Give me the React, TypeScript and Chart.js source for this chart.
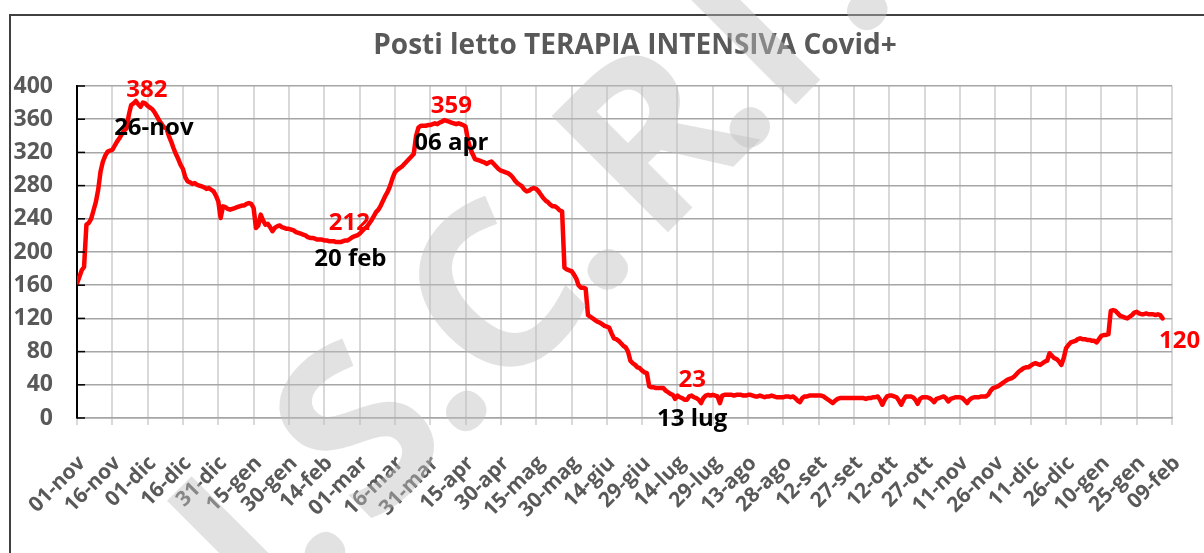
import React, { useEffect, useRef } from "react";
import { Chart, registerables } from "chart.js";

Chart.register(...registerables);

const titleText = "Posti letto TERAPIA INTENSIVA Covid+";

const tickLabels = [
  "01-nov", "16-nov", "01-dic", "16-dic", "31-dic", "15-gen", "30-gen", "14-feb",
  "01-mar", "16-mar", "31-mar", "15-apr", "30-apr", "15-mag", "30-mag", "14-giu",
  "29-giu", "14-lug", "29-lug", "13-ago", "28-ago", "12-set", "27-set", "12-ott",
  "27-ott", "11-nov", "26-nov", "11-dic", "26-dic", "10-gen", "25-gen", "09-feb",
];

// daily values, 01-nov-2020 .. 05-feb-2022
const nov2020 = [162, 170, 178, 182, 233, 235, 240, 250, 260, 275, 297, 309, 316, 321, 322, 323, 328, 333, 337, 342, 346, 349, 365, 377, 379, 382, 378, 375, 380, 379];
const dic2020 = [376, 374, 372, 368, 363, 358, 354, 350, 349, 340, 333, 325, 318, 312, 305, 300, 290, 285, 284, 282, 283, 281, 280, 279, 278, 276, 277, 275, 273, 268, 261];
const gen2021 = [241, 255, 254, 252, 251, 252, 253, 254, 255, 256, 256, 258, 259, 258, 253, 229, 232, 245, 238, 233, 234, 230, 225, 229, 231, 232, 230, 229, 228, 228, 227];
const feb2021 = [226, 224, 223, 222, 221, 220, 218, 217, 217, 216, 215, 215, 215, 214, 214, 213, 213, 213, 212, 212, 212, 213, 214, 214, 216, 218, 219, 220];
const mar2021 = [222, 225, 228, 230, 234, 238, 243, 248, 251, 256, 262, 268, 273, 280, 289, 296, 299, 301, 303, 306, 309, 312, 315, 318, 340, 350, 352, 352, 352, 353, 353];
const apr2021 = [354, 355, 354, 356, 357, 359, 358, 357, 356, 355, 354, 355, 354, 353, 351, 335, 325, 318, 312, 311, 310, 309, 308, 306, 308, 309, 306, 303, 300, 298];
const mag2021 = [297, 296, 295, 293, 290, 286, 283, 281, 279, 275, 273, 274, 276, 277, 276, 273, 269, 265, 262, 260, 257, 255, 255, 253, 250, 249, 181, 179, 178, 177, 173];
const giu2021 = [168, 160, 157, 157, 156, 124, 122, 120, 118, 116, 115, 113, 111, 110, 109, 102, 96, 95, 93, 90, 87, 85, 80, 69, 66, 64, 61, 60, 57, 55];
const lug2021 = [54, 38, 37, 37, 36, 36, 36, 36, 33, 31, 29, 28, 23, 27, 25, 24, 22, 22, 26, 27, 25, 24, 22, 18, 24, 27, 28, 27, 28, 27, 26];
const ago2021 = [18, 27, 28, 28, 28, 28, 27, 28, 28, 28, 27, 27, 28, 28, 27, 26, 26, 27, 26, 25, 26, 26, 27, 26, 25, 25, 25, 25, 26, 26, 25];
const set2021 = [26, 24, 21, 19, 24, 26, 26, 27, 27, 27, 27, 27, 27, 26, 24, 22, 20, 18, 21, 23, 24, 24, 24, 24, 24, 24, 24, 24, 24, 24];
const ott2021 = [24, 23, 24, 24, 25, 25, 26, 22, 16, 22, 26, 27, 27, 26, 25, 21, 16, 22, 26, 26, 26, 25, 22, 17, 23, 25, 25, 25, 24, 22, 19];
const nov2021 = [23, 24, 25, 26, 24, 20, 23, 24, 25, 25, 25, 24, 21, 18, 22, 24, 25, 25, 25, 26, 26, 26, 28, 33, 36, 37, 38, 40, 42, 44];
const dic2021 = [46, 47, 48, 50, 53, 56, 58, 60, 61, 61, 63, 65, 66, 65, 64, 66, 68, 69, 78, 75, 72, 71, 68, 64, 72, 84, 88, 91, 92, 93, 95];
const gen2022 = [96, 95, 95, 94, 94, 93, 93, 91, 95, 99, 100, 100, 101, 129, 130, 129, 126, 123, 122, 121, 120, 122, 124, 127, 128, 126, 125, 125, 126, 125, 125];
const feb2022 = [125, 124, 125, 124, 120];

const values = [
  ...nov2020, ...dic2020, ...gen2021, ...feb2021, ...mar2021, ...apr2021,
  ...mag2021, ...giu2021, ...lug2021, ...ago2021, ...set2021, ...ott2021,
  ...nov2021, ...dic2021, ...gen2022, ...feb2022,
];

// callouts: day index in the series, value text, date text
const calloutDays = [25, 111, 156, 254, 461];
const calloutValues = ["382", "212", "359", "23", "120"];
const calloutDates = ["26-nov", "20 feb", "06 apr", "13 lug", ""];

// watermark characters
const watermarkChars = ["I", ".", "S", ".", "C", ".", "R", ".", "I", "."];

const FONT = "'Open Sans', 'Noto Sans', sans-serif";

// offsets (px) of the callout texts from their point: [valueDx, valueDy, dateDx, dateDy]
const calloutOffsets = [
  [11, -11, 18, 27],
  [11, -19, 12, 17],
  [7, -14, 7, 23],
  [17, -19, 17, 20],
  [17, 23, 0, 0],
];
// positions of the watermark glyphs along its rotated baseline
const watermarkAlong = [-520, -462, -352, -262, -162, -62, 62, 139, 205, 305];

const overlayPlugin = {
  id: "overlay",
  afterDatasetsDraw(chart: any) {
    const { ctx, chartArea, scales } = chart;
    const xs = scales.x;
    const ys = scales.y;
    ctx.save();
    // inner black tick marks on the value axis
    ctx.strokeStyle = "#000000";
    ctx.lineWidth = 1.5;
    ys.ticks.forEach((t: any) => {
      const py = ys.getPixelForValue(t.value);
      ctx.beginPath();
      ctx.moveTo(chartArea.left, py);
      ctx.lineTo(chartArea.left + 8, py);
      ctx.stroke();
    });
    // title
    ctx.font = `bold 28px ${FONT}`;
    ctx.fillStyle = "#595959";
    ctx.textAlign = "center";
    ctx.textBaseline = "middle";
    ctx.fillText(titleText, 635, 46);
    // callouts
    ctx.font = `bold 24px ${FONT}`;
    calloutDays.forEach((d, i) => {
      const px = xs.getPixelForValue(d);
      const py = ys.getPixelForValue(values[d]);
      const o = calloutOffsets[i];
      ctx.fillStyle = "#ff0000";
      ctx.fillText(calloutValues[i], px + o[0], py + o[1]);
      if (calloutDates[i]) {
        ctx.fillStyle = "#000000";
        ctx.fillText(calloutDates[i], px + o[2], py + o[3]);
      }
    });
    ctx.restore();
  },
  afterDraw(chart: any) {
    const { ctx } = chart;
    ctx.save();
    ctx.translate(663, 237);
    ctx.rotate(-Math.PI / 4);
    ctx.font = `bold 230px ${FONT}`;
    ctx.fillStyle = "rgba(190, 190, 190, 0.45)";
    ctx.textAlign = "center";
    ctx.textBaseline = "alphabetic";
    watermarkChars.forEach((ch, i) => {
      ctx.fillText(ch, watermarkAlong[i], 0);
    });
    ctx.restore();
  },
};

export default function App() {
  const canvasRef = useRef<HTMLCanvasElement | null>(null);

  useEffect(() => {
    if (!canvasRef.current) return;
    const chart = new Chart(canvasRef.current, {
      type: "line",
      data: {
        datasets: [
          {
            data: values.map((v, i) => ({ x: i, y: v })),
            borderColor: "#ff0000",
            borderWidth: 4.5,
            pointRadius: 0,
            tension: 0,
            borderJoinStyle: "round",
            borderCapStyle: "round",
          },
        ],
      },
      options: {
        animation: false,
        responsive: false,
        layout: { padding: { left: 0, right: 32, top: 86, bottom: 0 } },
        plugins: {
          legend: { display: false },
          tooltip: { enabled: false },
          title: { display: false },
        },
        scales: {
          x: {
            type: "linear",
            min: 0,
            max: 465,
            afterFit: (s: any) => {
              s.height = 135;
              s.paddingLeft = 0;
              s.paddingRight = 0;
            },
            ticks: {
              stepSize: 15,
              autoSkip: false,
              maxRotation: 45,
              minRotation: 45,
              padding: 26,
              labelOffset: 5,
              color: "#595959",
              font: { family: FONT, weight: "bold", size: 21 },
              callback: (v: any) => tickLabels[Math.round(Number(v) / 15)] ?? "",
            },
            grid: { color: "#d9d9d9", lineWidth: 2, tickLength: 7 },
            border: { color: "#a6a6a6", width: 1.5 },
          },
          y: {
            min: 0,
            max: 400,
            afterFit: (s: any) => {
              s.width = 77;
            },
            ticks: {
              stepSize: 40,
              padding: 24,
              color: "#595959",
              font: { family: FONT, weight: "bold", size: 23 },
            },
            grid: { color: "#a6a6a6", lineWidth: 1.5, drawTicks: false },
            border: { color: "#000000", width: 2 },
          },
        },
      },
      plugins: [overlayPlugin],
    } as any);
    if ((document as any).fonts && (document as any).fonts.ready) {
      (document as any).fonts.ready.then(() => chart.update());
    }
    return () => chart.destroy();
  }, []);

  return (
    <div style={{ position: "absolute", left: 0, top: 0, width: 1204, height: 553, background: "#ffffff", overflow: "hidden" }}>
      <div
        style={{
          position: "absolute",
          left: 9,
          top: 14,
          right: -4,
          bottom: -4,
          borderLeft: "2px solid #404040",
          borderTop: "2px solid #404040",
        }}
      />
      <canvas ref={canvasRef} width={1204} height={553} style={{ position: "absolute", left: 0, top: 0, width: 1204, height: 553 }} />
    </div>
  );
}
